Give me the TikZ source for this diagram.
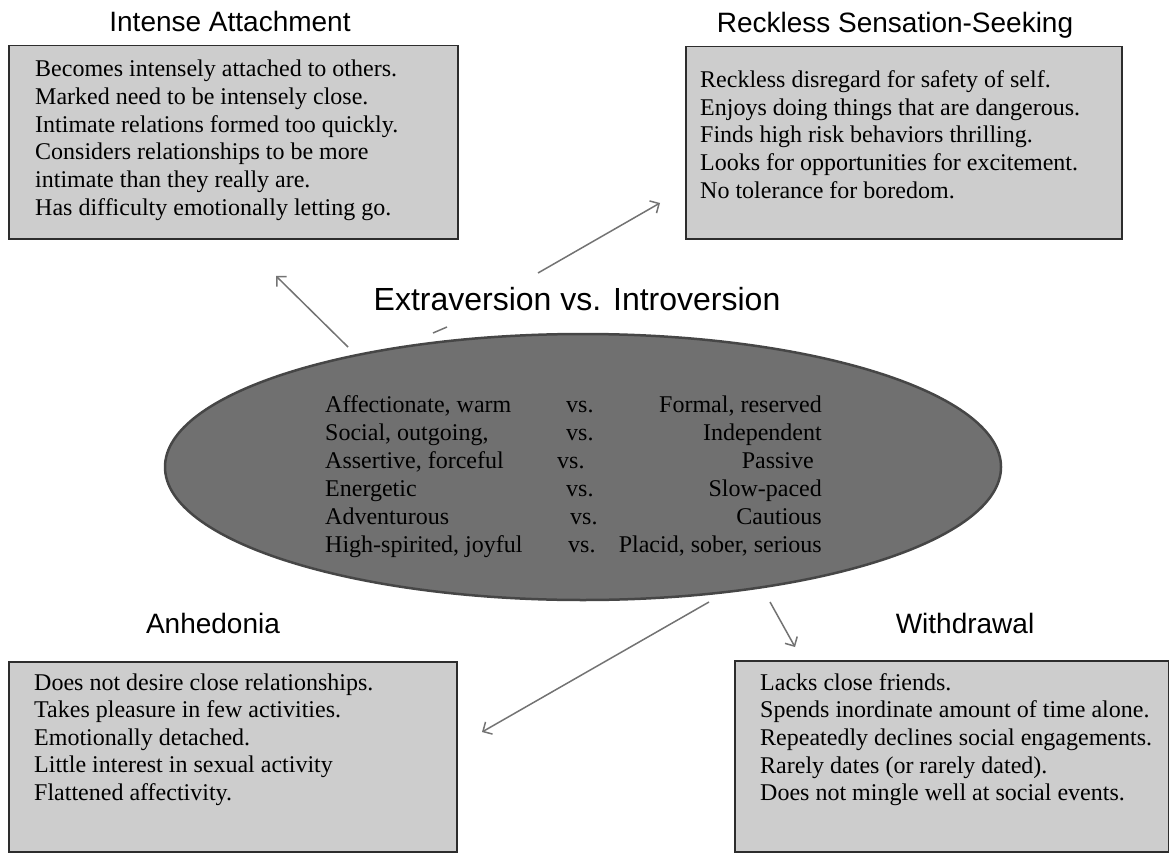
\documentclass[tikz,border=0pt]{standalone}
\usepackage{fontspec}
\setmainfont{Liberation Serif}
\newfontfamily\titlefont{Liberation Sans}
\usetikzlibrary{arrows.meta,shapes.geometric}
\definecolor{boxgray}{RGB}{205,205,205}
\definecolor{ellgray}{RGB}{112,112,112}
\definecolor{elledge}{RGB}{70,70,70}
\definecolor{arrowgray}{RGB}{115,115,115}
\definecolor{edgedark}{RGB}{45,45,45}
\begin{document}
\begin{tikzpicture}[x=1pt,y=-1pt,
  infobox/.style={draw=edgedark, line width=1.5pt, fill=boxgray, anchor=north west, inner sep=0pt},
  boxtitle/.style={font=\titlefont\fontsize{28}{30}\selectfont, anchor=base, inner sep=0pt},
  bodyline/.style={font=\fontsize{24}{27.6}\selectfont, anchor=base west, inner sep=0pt},
  rightline/.style={font=\fontsize{24}{27.6}\selectfont, anchor=base east, inner sep=0pt},
  conn/.style={draw=arrowgray, line width=1.5pt, -{Straight Barb[length=7pt,width=14pt,line width=1.5pt]}}]
\useasboundingbox (0,0) rectangle (1169,853);

% boxes
\node[infobox, minimum width=449pt, minimum height=193pt] (ia) at (8,45) {};
\node[infobox, minimum width=436pt, minimum height=192pt] (rs) at (685,46) {};
\node[infobox, minimum width=448pt, minimum height=190pt] (an) at (8,661) {};
\node[infobox, minimum width=434pt, minimum height=191pt] (wd) at (734,660) {};

% titles
\node[boxtitle] (tia) at (230,32) {Intense Attachment};
\node[boxtitle] (trs) at (895,33) {Reckless Sensation-Seeking};
\node[boxtitle] (tan) at (213,633) {Anhedonia};
\node[boxtitle] (twd) at (965,633) {Withdrawal};

% ellipse
\node[ellipse, draw=elledge, fill=ellgray, line width=2.5pt, minimum width=836pt, minimum height=266pt, inner sep=0pt] (ev) at (583,467) {};
\node[font=\titlefont\fontsize{32}{34}\selectfont, anchor=base, inner sep=0pt] (tev) at (577,310) {Extraversion vs. Introversion};

% box texts
\foreach \t [count=\i from 0] in {Becomes intensely attached to others.,Marked need to be intensely close.,Intimate relations formed too quickly.,Considers relationships to be more,intimate than they really are.,Has difficulty emotionally letting go.}
  \node[bodyline] (ia-\i) at (35,77+\i*27.6) {\t};
\foreach \t [count=\i from 0] in {Reckless disregard for safety of self.,Enjoys doing things that are dangerous.,Finds high risk behaviors thrilling.,Looks for opportunities for excitement.,No tolerance for boredom.}
  \node[bodyline] (rs-\i) at (700,88+\i*27.5) {\t};
\foreach \t [count=\i from 0] in {Does not desire close relationships.,Takes pleasure in few activities.,Emotionally detached.,Little interest in sexual activity,Flattened affectivity.}
  \node[bodyline] (an-\i) at (34,690+\i*27.5) {\t};
\foreach \t [count=\i from 0] in {Lacks close friends.,Spends inordinate amount of time alone.,Repeatedly declines social engagements.,Rarely dates (or rarely dated).,Does not mingle well at social events.}
  \node[bodyline] (wd-\i) at (760,690+\i*27.7) {\t};

% ellipse texts
\foreach \l/\vx/\r/\rx [count=\i from 0] in {Affectionate{,} warm/566/Formal{,} reserved/822,Social{,} outgoing{,}/566/Independent/822,Assertive{,} forceful/557/Passive/814,Energetic/566/Slow-paced/822,Adventurous/570/Cautious/822,High-spirited{,} joyful/568/Placid{,} sober{,} serious/822}
{
  \node[bodyline] (el-\i) at (325,412+\i*28) {\l};
  \node[bodyline] (ev-\i) at (\vx,412+\i*28) {vs.};
  \node[rightline] (er-\i) at (\rx,412+\i*28) {\r};
}

% connectors
\coordinate (a1s) at (348,347);
\coordinate (a1e) at (276,276);
\coordinate (a2s) at (538,273);
\coordinate (a2e) at (660,203);
\coordinate (dks) at (433,333);
\coordinate (dke) at (447,327);
\coordinate (a3s) at (709,602);
\coordinate (a3e) at (482,732);
\coordinate (a4s) at (770,602);
\coordinate (a4e) at (795,647);
\draw[conn] (a1s) -- (a1e);
\draw[conn] (a2s) -- (a2e);
\draw[draw=arrowgray, line width=1.5pt] (dks) -- (dke);
\draw[conn] (a3s) -- (a3e);
\draw[conn] (a4s) -- (a4e);
\end{tikzpicture}
\end{document}
